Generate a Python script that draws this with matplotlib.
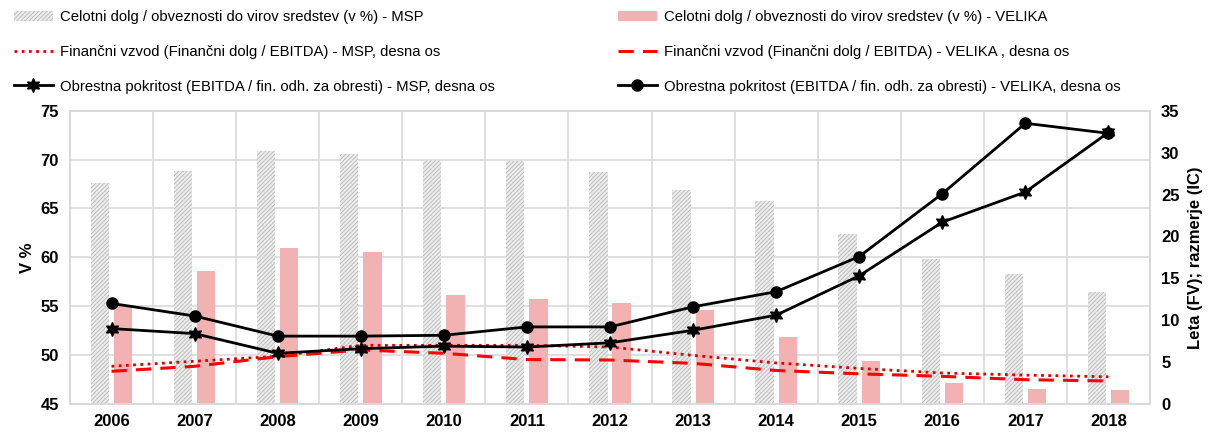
import matplotlib
matplotlib.use("Agg")
import matplotlib.pyplot as plt
import numpy as np

plt.rcParams['font.family'] = ['Liberation Sans', 'DejaVu Sans']
plt.rcParams['hatch.linewidth'] = 0.6

years = ['2006', '2007', '2008', '2009', '2010', '2011', '2012', '2013', '2014', '2015', '2016', '2017', '2018']
debt_msp = [67.6, 68.8, 70.9, 70.6, 70.0, 69.9, 68.7, 66.9, 65.8, 62.4, 59.8, 58.3, 56.5]
debt_velika = [55.0, 58.6, 61.0, 60.55, 56.2, 55.75, 55.3, 54.6, 51.9, 49.4, 47.1, 46.5, 46.4]
fv_msp = [4.5, 5.1, 5.7, 7.0, 7.0, 7.0, 6.8, 5.8, 4.9, 4.25, 3.7, 3.45, 3.25]
fv_velika = [3.9, 4.5, 5.65, 6.45, 6.05, 5.3, 5.25, 4.85, 4.0, 3.6, 3.3, 2.9, 2.75]
ic_msp = [9.0, 8.4, 6.05, 6.6, 6.9, 6.8, 7.3, 8.8, 10.6, 15.3, 21.7, 25.3, 32.4]
ic_velika = [12.0, 10.5, 8.1, 8.1, 8.2, 9.2, 9.2, 11.6, 13.4, 17.6, 25.1, 33.5, 32.3]

lab_debt_msp = 'Celotni dolg / obveznosti do virov sredstev (v %) - MSP'
lab_debt_vel = 'Celotni dolg / obveznosti do virov sredstev (v %) - VELIKA'
lab_fv_msp = 'Finančni vzvod (Finančni dolg / EBITDA) - MSP, desna os'
lab_fv_vel = 'Finančni vzvod (Finančni dolg / EBITDA) - VELIKA , desna os'
lab_ic_msp = 'Obrestna pokritost (EBITDA / fin. odh. za obresti) - MSP, desna os'
lab_ic_vel = 'Obrestna pokritost (EBITDA / fin. odh. za obresti) - VELIKA, desna os'

W, H = 1220, 432
fig = plt.figure(figsize=(W / 100, H / 100), dpi=100)
ax = fig.add_axes([70 / W, 1 - 404 / H, 1080 / W, 293.3 / H])
ax2 = ax.twinx()

x = np.arange(len(years))
bw = 0.22
grid_c = '#d9d9d9'

b1 = ax.bar(x - 0.14, debt_msp, width=bw, color='#ebebeb', edgecolor='#b8b8b8',
            hatch='////////', linewidth=0, zorder=2)
b2 = ax.bar(x + 0.14, debt_velika, width=bw, color='#f2b2b2', linewidth=0, zorder=2)

ax.set_ylim(45, 75)
ax.set_yticks(np.arange(45, 76, 5))
ax.set_xlim(-0.5, len(years) - 0.5)
ax.set_xticks(x)
ax.set_xticklabels(years)
ax.set_xticks(np.arange(-0.5, len(years), 1), minor=True)
ax.grid(True, which='minor', axis='x', color=grid_c, linewidth=1.2, zorder=0)
ax.grid(True, which='major', axis='y', color=grid_c, linewidth=1.2, zorder=0)
ax.set_axisbelow(True)
ax.tick_params(axis='both', which='both', length=0)
ax.tick_params(axis='x', pad=7, labelsize=12)
ax.tick_params(axis='y', pad=8, labelsize=12)
for lbl in ax.get_xticklabels() + ax.get_yticklabels():
    lbl.set_fontweight('bold')
ax.set_ylabel('V %', fontsize=12, fontweight='bold', labelpad=4)

for a in (ax, ax2):
    for s in a.spines.values():
        s.set_color(grid_c)
        s.set_linewidth(1.2)

l1, = ax2.plot(x, fv_msp, linestyle=(0, (1, 1.6)), color='#e00000', linewidth=2, zorder=3)
l2, = ax2.plot(x, fv_velika, linestyle=(0, (5, 3)), color='#ff0000', linewidth=2.2, zorder=3)
l3, = ax2.plot(x, ic_msp, color='black', linewidth=2, marker=(6, 1, 0), markersize=10, zorder=4)
l4, = ax2.plot(x, ic_velika, color='black', linewidth=2, marker='o', markersize=8, zorder=4)
ax2.set_ylim(0, 35)
ax2.set_yticks(np.arange(0, 36, 5))
ax2.tick_params(axis='y', length=0, pad=8, labelsize=12)
for lbl in ax2.get_yticklabels():
    lbl.set_fontweight('bold')
ax2.set_ylabel('Leta (FV); razmerje (IC)', fontsize=12, fontweight='bold', labelpad=6)

ax.set_zorder(1)
ax2.set_zorder(2)
ax2.patch.set_visible(False)

leg_kw = dict(frameon=False, fontsize=10.7,
              handlelength=2.6, handletextpad=0.5,
              labelspacing=1.4, borderaxespad=0, borderpad=0)
fig.legend([b1, l1, l3], [lab_debt_msp, lab_fv_msp, lab_ic_msp], loc='upper left',
           bbox_to_anchor=(14 / W, 1 - 10 / H), **leg_kw)
fig.legend([b2, l2, l4], [lab_debt_vel, lab_fv_vel, lab_ic_vel], loc='upper left',
           bbox_to_anchor=(618 / W, 1 - 10 / H), **leg_kw)

fig.savefig('out.png', dpi=100)
